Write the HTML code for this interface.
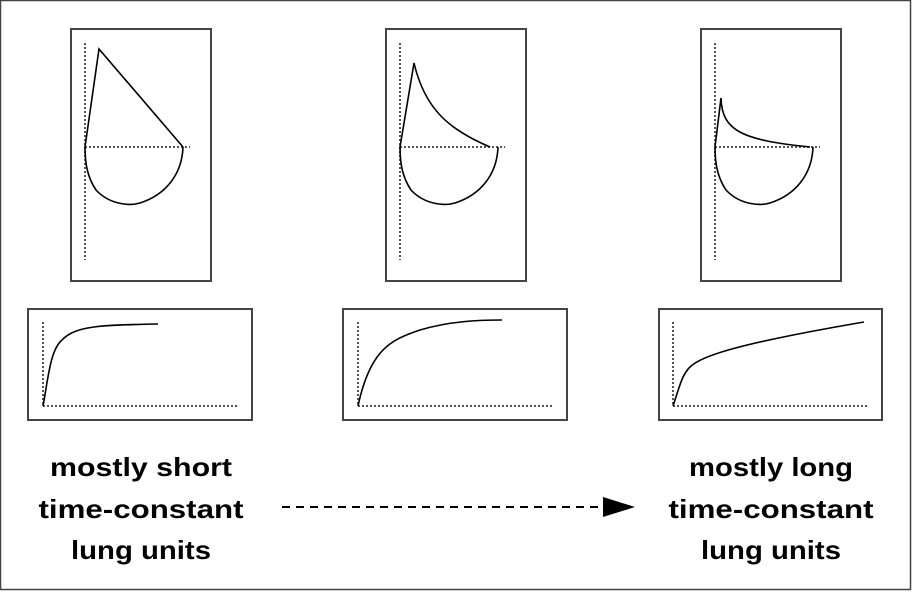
<!DOCTYPE html>
<html><head><style>body{margin:0;background:#fff}</style></head><body>
<svg width="912" height="591" viewBox="0 0 912 591" xmlns="http://www.w3.org/2000/svg">
<rect x="0.5" y="0.5" width="910" height="589" fill="#fff" stroke="#444" stroke-width="1.5"/>
<g fill="none" stroke="#444" stroke-width="2">
<rect x="71" y="29" width="140" height="252"/>
<rect x="386" y="29" width="140" height="252"/>
<rect x="701" y="29" width="140" height="252"/>
<rect x="28" y="309" width="224" height="111"/>
<rect x="343" y="309" width="224" height="111"/>
<rect x="659" y="309" width="223" height="111"/>
</g>
<g stroke="#555" stroke-width="2" stroke-dasharray="2,2" fill="none">
<path d="M85 43V260M85 147H190"/>
<path d="M400 43V260M400 147H505"/>
<path d="M715 43V260M715 147H820"/>
<path d="M43 322V406H238"/>
<path d="M358 322V406H553"/>
<path d="M673 322V406H868"/>
</g>
<g fill="none" stroke="#000" stroke-width="1.6">
<path d="M85 147L99 49L183 147"/>
<path d="M85 147C85 165 88 178 96 190C110 205 130 206 140 203C165 195 182 175 183 147"/>
<path d="M400 147L414 63C425 110 450 130 490 147"/>
<path d="M400 147C400 165 403 178 411 190C425 205 445 206 455 203C480 195 497 175 498 147"/>
<path d="M715 147L721 98C722 130 740 140 810 147"/>
<path d="M715 147C715 165 718 178 726 190C740 205 760 206 770 203C795 195 812 175 813 147"/>
<path d="M43 406C48 380 50 350 62 340C75 326 100 325 158 324"/>
<path d="M358 406C370 350 390 340 420 330C450 321 480 320 502 320"/>
<path d="M673 406C680 385 682 375 690 367C700 357 730 345 864 322"/>
</g>
<path d="M282 507H605" stroke="#000" stroke-width="2" stroke-dasharray="8,6"/>
<path d="M603 497L635 507L603 517Z" fill="#000"/>
<g font-family="Liberation Sans, sans-serif" font-weight="bold" font-size="26" text-anchor="middle" fill="#000">
<text x="141" y="476" textLength="182" lengthAdjust="spacingAndGlyphs">mostly short</text>
<text x="141" y="518" textLength="205" lengthAdjust="spacingAndGlyphs">time-constant</text>
<text x="141" y="559" textLength="140" lengthAdjust="spacingAndGlyphs">lung units</text>
<text x="771" y="476" textLength="164" lengthAdjust="spacingAndGlyphs">mostly long</text>
<text x="771" y="518" textLength="205" lengthAdjust="spacingAndGlyphs">time-constant</text>
<text x="771" y="559" textLength="140" lengthAdjust="spacingAndGlyphs">lung units</text>
</g>
</svg>
</body></html>
